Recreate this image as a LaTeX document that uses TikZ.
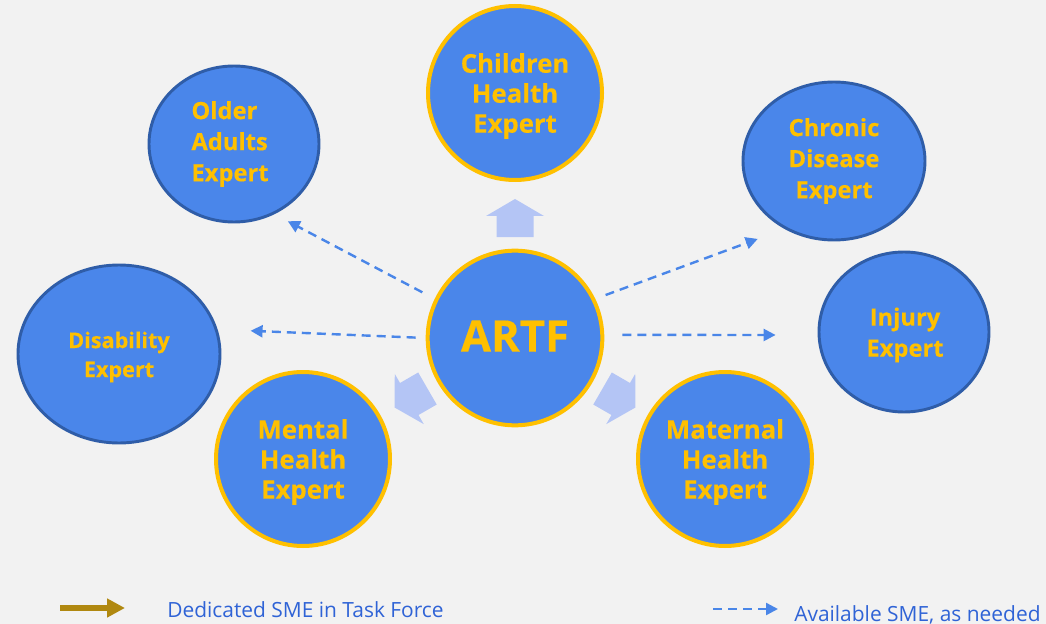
\documentclass[tikz,border=0pt]{standalone}
\usepackage{fontspec}
\setmainfont{Open Sans}
\newfontfamily\heavyfont{Open Sans}[FakeBold=0.4]
\usetikzlibrary{arrows.meta,shapes.geometric}

\definecolor{bgcol}{HTML}{F2F2F2}
\definecolor{nodefill}{HTML}{4A86EA}
\definecolor{ringgold}{HTML}{FFC000}
\definecolor{ringblue}{HTML}{2F5DA8}
\definecolor{labelgold}{HTML}{FFC000}
\definecolor{blockcol}{HTML}{B4C5F5}
\definecolor{dashcol}{HTML}{4A86E8}
\definecolor{legendgold}{HTML}{B08810}
\definecolor{legendtext}{HTML}{2F63D6}

\tikzset{
  core/.style={circle, draw=ringgold, line width=3pt, fill=nodefill, inner sep=0pt},
  dedicated/.style={circle, draw=ringgold, line width=3pt, fill=nodefill, inner sep=0pt,
    minimum size=130.5pt},
  available/.style={ellipse, draw=ringblue, line width=2.2pt, fill=nodefill, inner sep=0pt},
  bigtxt/.style={text=labelgold, align=center, inner sep=0pt,
    font=\heavyfont\bfseries\fontsize{19.3}{22.5}\selectfont},
  smalltxt/.style={text=labelgold, align=center, inner sep=0pt,
    font=\heavyfont\bfseries\fontsize{17.8}{23.3}\selectfont},
  sdash/.style={draw=dashcol, line width=1.8pt, dash pattern=on 6.75pt off 4.5pt,
    -{Triangle[length=9pt,width=9pt,fill=dashcol]}},
  blockarrow/.style={fill=blockcol, draw=none},
  legendlabel/.style={text=legendtext, anchor=base west, inner sep=0pt,
    font=\fontsize{15.7}{18}\selectfont}
}

\begin{document}
\begin{tikzpicture}[x=0.75pt,y=-0.75pt]
  % canvas
  \fill[bgcol] (0,0) rectangle (1046,624);
  \useasboundingbox (0,0) rectangle (1046,624);

  % central task force
  \node[core, minimum size=131pt] (artf) at (515,338) {};
  \node[text=labelgold, inner sep=0pt,
    font=\heavyfont\bfseries\fontsize{32.7}{36}\selectfont]
    (artftxt) at (515,336) {ARTF};

  % dedicated experts
  \node[dedicated] (children) at (515,93)  {};
  \node[dedicated] (mental)   at (303,459) {};
  \node[dedicated] (maternal) at (725,459) {};
  \node[bigtxt] (childrentxt) at (515,96)  {Children\\Health\\Expert};
  \node[bigtxt] (mentaltxt)   at (303,462) {Mental\\Health\\Expert};
  \node[bigtxt] (maternaltxt) at (725,462) {Maternal\\Health\\Expert};

  % experts available as needed
  \node[available, minimum width=127.5pt, minimum height=117pt]
    (older) at (234,144) {};
  \node[available, minimum width=136.5pt, minimum height=118.5pt]
    (chronic) at (834,161) {};
  \node[available, minimum width=127.5pt, minimum height=120pt]
    (injury) at (904,332) {};
  \node[available, minimum width=151.5pt, minimum height=133.5pt]
    (disability) at (119,354) {};
  \node[smalltxt, align=left] (oldertxt) at (230,144) {Older\\Adults\\Expert};
  \node[smalltxt] (chronictxt) at (834,161) {Chronic\\Disease\\Expert};
  \node[smalltxt] (injurytxt) at (905,335) {Injury\\Expert};
  \node[smalltxt, font=\heavyfont\bfseries\fontsize{16.2}{21.8}\selectfont]
    (disabilitytxt) at (119,357) {Disability\\Expert};

  % block arrows towards the dedicated experts
  \foreach \ang/\cx/\cy in {90/515/218, 210/411/398, 330/619/398}{
    \begin{scope}[shift={(\cx,\cy)}, rotate=\ang]
      \fill[blockarrow] (-19,-18.5) -- (2,-18.5) -- (2,-29) -- (19,0)
        -- (2,29) -- (2,18.5) -- (-19,18.5) -- cycle;
    \end{scope}
  }

  % dashed links to the experts available as needed
  \draw[sdash, shorten <=10.5pt, shorten >=11.25pt] (artf.154) -- (older.-60);
  \draw[sdash, shorten <=8.25pt, shorten >=21.5pt] (artf.26.6) -- (chronic.234);
  \draw[sdash, shorten <=7.5pt, shorten >=24.75pt] (artf.180) -- (disability.14);
  \draw[sdash, shorten <=13.5pt, shorten >=31.5pt] (artf.2) -- (injury.182);

  % legend
  \coordinate (lgdA) at (60,608);
  \coordinate (lgdB) at (125,608);
  \draw[legendgold, line width=4pt,
    -{Triangle[length=13.5pt,width=13.5pt,fill=legendgold]}] (lgdA) -- (lgdB);
  \node[legendlabel] (lgdtxtA) at (167,617) {Dedicated SME in Task Force};

  \coordinate (lgdC) at (713,609);
  \coordinate (lgdD) at (778,609);
  \draw[sdash] (lgdC) -- (lgdD);
  \node[legendlabel] (lgdtxtB) at (794,621) {Available SME, as needed};
\end{tikzpicture}
\end{document}
